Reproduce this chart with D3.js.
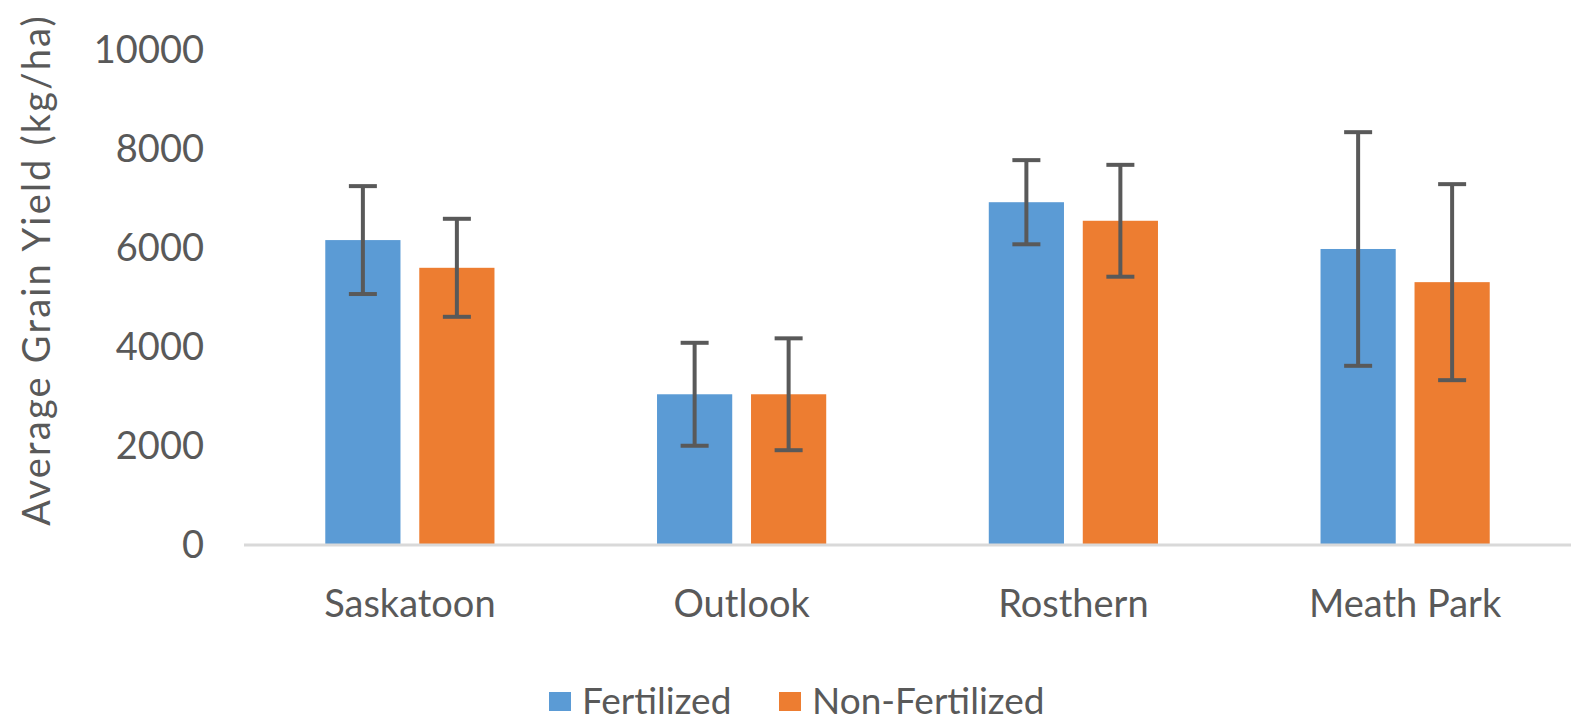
<!DOCTYPE html>
<html>
<head>
<meta charset="utf-8">
<script src="https://cdn.jsdelivr.net/npm/d3@7"></script>
<style>
  body { margin: 0; background: #fff; overflow: hidden; }
  text { font-family: Lato, "Open Sans", sans-serif; fill: #595959; }
</style>
</head>
<body>
<div id="chart"></div>
<script>
const sites = ['Saskatoon', 'Outlook', 'Rosthern', 'Meath Park'];
const seriesNames = ['Fertilized', 'Non-Fertilized'];
const fertilized = [6160, 3045, 6925, 5980];
const fertilizedErr = [1090, 1040, 850, 2360];
const nonFertilized = [5600, 3045, 6550, 5310];
const nonFertilizedErr = [990, 1130, 1130, 1980];
const yTicks = [0, 2000, 4000, 6000, 8000, 10000];
const colors = ['#5b9bd5', '#ed7d31'];

const width = 1573, height = 721;
const margin = { top: 50, right: 2, bottom: 176, left: 244 };
const innerWidth = width - margin.left - margin.right;
const innerHeight = height - margin.top - margin.bottom;

const rows = sites.map((s, i) => ({
  site: s,
  values: [
    { key: seriesNames[0], v: fertilized[i], e: fertilizedErr[i] },
    { key: seriesNames[1], v: nonFertilized[i], e: nonFertilizedErr[i] }
  ]
}));

const svg = d3.select('#chart').append('svg')
  .attr('width', width)
  .attr('height', height)
  .style('display', 'block');

const g = svg.append('g')
  .attr('transform', `translate(${margin.left},${margin.top})`);

const xScale = d3.scaleBand()
  .domain(sites)
  .range([0, innerWidth])
  .paddingInner(0.49)
  .paddingOuter(0.245);

const xInner = d3.scaleBand()
  .domain(seriesNames)
  .range([0, xScale.bandwidth()])
  .paddingInner(0.2);

const yScale = d3.scaleLinear()
  .domain([0, 10000])
  .range([innerHeight, 0]);

const yAxis = d3.axisLeft(yScale)
  .tickValues(yTicks)
  .tickSize(0)
  .tickPadding(40)
  .tickFormat(d3.format('d'));

const yAxisG = g.append('g').call(yAxis);
yAxisG.select('.domain').remove();
yAxisG.selectAll('text')
  .style('font-size', '38px')
  .attr('fill', '#595959');

svg.append('text')
  .attr('transform', `translate(50,270) rotate(-90)`)
  .attr('text-anchor', 'middle')
  .style('font-size', '38px')
  .style('letter-spacing', '2.2px')
  .text('Average Grain Yield (kg/ha)');

const groups = g.selectAll('.site').data(rows)
  .enter().append('g')
    .attr('class', 'site')
    .attr('transform', d => `translate(${xScale(d.site)},0)`);

groups.selectAll('rect').data(d => d.values)
  .enter().append('rect')
    .attr('x', d => xInner(d.key))
    .attr('y', d => yScale(d.v))
    .attr('width', xInner.bandwidth())
    .attr('height', d => innerHeight - yScale(d.v))
    .attr('fill', (d, i) => colors[i]);

// baseline
g.append('line')
  .attr('x1', 0).attr('x2', innerWidth)
  .attr('y1', innerHeight).attr('y2', innerHeight)
  .attr('stroke', '#d9d9d9')
  .attr('stroke-width', 3);

// error bars
const capW = 14;
const err = groups.selectAll('.err').data(d => d.values)
  .enter().append('g')
    .attr('class', 'err')
    .attr('stroke', '#595959')
    .attr('stroke-width', 4);
const cx = d => xInner(d.key) + xInner.bandwidth() / 2;
err.append('line')
  .attr('x1', cx).attr('x2', cx)
  .attr('y1', d => yScale(d.v + d.e)).attr('y2', d => yScale(d.v - d.e));
err.append('line')
  .attr('x1', d => cx(d) - capW).attr('x2', d => cx(d) + capW)
  .attr('y1', d => yScale(d.v + d.e)).attr('y2', d => yScale(d.v + d.e));
err.append('line')
  .attr('x1', d => cx(d) - capW).attr('x2', d => cx(d) + capW)
  .attr('y1', d => yScale(d.v - d.e)).attr('y2', d => yScale(d.v - d.e));

const xAxis = d3.axisBottom(xScale).tickSize(0).tickPadding(45);
const xAxisG = g.append('g')
  .attr('transform', `translate(0,${innerHeight})`)
  .call(xAxis);
xAxisG.select('.domain').remove();
xAxisG.selectAll('text')
  .style('font-size', '38px')
  .attr('fill', '#595959');

// legend
const legendX = [549, 779];
const legend = svg.selectAll('.legend').data(seriesNames)
  .enter().append('g')
    .attr('class', 'legend')
    .attr('transform', (d, i) => `translate(${legendX[i]},692)`);
legend.append('rect')
  .attr('width', 22).attr('height', 19)
  .attr('fill', (d, i) => colors[i]);
legend.append('text')
  .attr('x', 33).attr('y', 22)
  .style('font-size', '37px')
  .text(d => d);
</script>
</body>
</html>
